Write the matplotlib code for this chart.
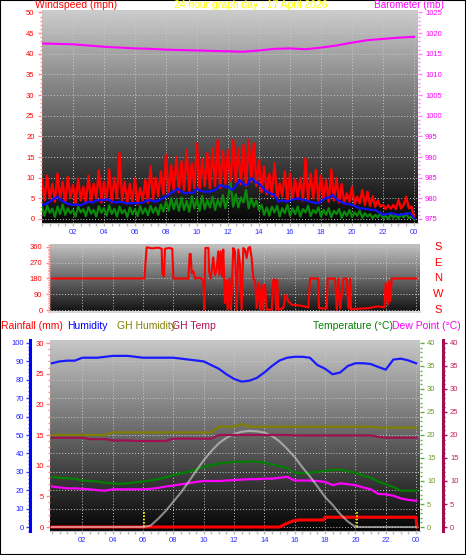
import numpy as np
import matplotlib
matplotlib.use("Agg")
import matplotlib.pyplot as plt
import matplotlib.transforms as mtransforms
from matplotlib.ticker import MultipleLocator, FixedLocator
from matplotlib.patches import Rectangle

plt.rcParams['font.family'] = ['Liberation Sans', 'DejaVu Sans']

# ---------------- data ----------------
title_text = "24 hour graph day : 17 April 2026"
xtick_hours = [2, 4, 6, 8, 10, 12, 14, 16, 18, 20, 22, 24]
xtick_labels = ["02", "04", "06", "08", "10", "12", "14", "16", "18", "20", "22", "00"]

# wind speed, 10-minute samples (mph)
gust_mph = [
    9.5, 4.5, 10.5, 5.0, 8.5, 4.2,
    11.0, 4.8, 9.0, 4.0, 10.2, 5.2,
    8.2, 3.8, 9.8, 4.5, 7.8, 4.0,
    10.5, 4.2, 8.5, 5.0, 11.8, 4.0,
    9.0, 4.6, 12.0, 4.0, 10.0, 5.0,
    16.0, 4.5, 9.0, 3.8, 8.5, 4.2,
    9.8, 3.6, 7.5, 4.5, 9.5, 4.0,
    12.7, 4.8, 10.0, 5.5, 11.5, 6.0,
    15.5, 6.0, 13.0, 7.0, 15.0, 6.5,
    14.0, 7.0, 16.7, 6.5, 13.5, 7.5,
    18.3, 7.0, 14.5, 8.0, 16.0, 7.5,
    17.0, 8.0, 19.1, 7.5, 16.5, 8.5,
    16.7, 8.5, 19.1, 9.0, 17.0, 8.5,
    18.0, 8.0, 19.1, 9.0, 18.3, 8.0,
    14.3, 6.5, 12.7, 6.0, 11.0, 5.5,
    13.5, 5.0, 8.6, 5.5, 11.5, 4.5,
    11.0, 4.8, 9.5, 5.0, 10.0, 4.5,
    14.7, 4.5, 11.0, 5.0, 11.9, 4.5,
    10.5, 4.8, 9.4, 4.2, 12.0, 4.5,
    9.9, 4.0, 8.5, 3.8, 6.2, 4.2,
    7.8, 3.5, 5.4, 3.8, 7.0, 3.4,
    6.6, 3.2, 5.5, 3.0, 4.5, 3.0,
    3.4, 2.4, 3.3, 2.5, 3.4, 2.4,
    4.6, 2.5, 3.4, 5.4, 2.6, 3.0,
    0.6]
low_mph = [
    2.8, 0.8, 3.2, 1.5, 2.5, 0.5,
    3.0, 1.2, 3.5, 1.0, 2.6, 1.4,
    2.2, 0.6, 3.0, 1.6, 2.4, 0.7,
    2.9, 1.3, 2.2, 0.6, 3.1, 1.5,
    2.6, 0.8, 3.3, 1.2, 2.5, 0.6,
    3.0, 1.4, 2.2, 0.5, 2.8, 1.2,
    2.4, 0.7, 3.1, 1.3, 2.6, 0.9,
    3.2, 1.5, 2.8, 1.0, 3.5, 1.8,
    4.2, 2.0, 5.0, 2.4, 4.6, 2.0,
    5.2, 2.2, 4.4, 1.8, 5.5, 2.6,
    4.8, 2.0, 5.6, 2.4, 4.6, 2.8,
    5.4, 2.2, 4.6, 3.0, 5.8, 2.6,
    5.0, 8.6, 3.0, 6.0, 2.8, 5.2,
    4.0, 7.0, 2.6, 5.0, 3.0, 4.4,
    2.2, 3.4, 1.0, 2.8, 0.8, 3.0,
    1.6, 3.2, 0.6, 2.6, 1.4, 3.4,
    0.8, 2.6, 1.2, 3.0, 0.6, 2.4,
    1.6, 3.2, 0.7, 2.2, 1.4, 2.8,
    0.6, 2.2, 1.0, 2.6, 0.4, 2.0,
    1.2, 2.4, 0.3, 1.8, 0.8, 2.2,
    0.5, 1.6, 0.8, 2.0, 0.3, 1.4,
    0.6, 1.2, 0.2, 1.0, 0.4, 1.5,
    0.2, 0.8, 0.0, 1.2, 0.3, 1.0,
    0.1, 1.2, 0.4, 1.4, 0.2, 0.6,
    0.0]
# average wind, 15-minute samples (mph)
avg_mph = [
    3.4, 3.6, 4.2, 4.8,
    5.4, 4.5, 4.0, 3.6,
    3.4, 3.5, 3.3, 3.8,
    4.2, 4.0, 4.5, 4.6,
    4.6, 4.8, 4.2, 4.0,
    4.2, 4.0, 3.8, 3.8,
    3.9, 3.8, 4.0, 4.4,
    4.6, 4.2, 4.4, 5.0,
    5.4, 6.2, 6.6, 7.4,
    6.6, 6.2, 6.4, 6.3,
    7.4, 6.8, 6.6, 6.6,
    6.8, 7.2, 8.2, 7.8,
    7.9, 7.0, 8.0, 9.4,
    8.4, 8.2, 9.9, 9.0,
    8.6, 7.5, 6.6, 6.2,
    5.8, 4.2, 4.5, 4.2,
    4.4, 4.8, 5.0, 4.7,
    4.6, 4.2, 4.0, 3.8,
    4.2, 5.0, 5.2, 5.8,
    4.8, 4.2, 3.8, 3.6,
    3.4, 3.0, 2.6, 2.5,
    2.4, 2.2, 2.2, 1.6,
    1.0, 1.2, 1.4, 1.2,
    1.0, 1.1, 1.3, 1.4,
    0.2]
gust_hours = np.arange(len(gust_mph)) / 6.0
low_hours = np.arange(len(low_mph)) / 6.0
avg_hours = np.arange(len(avg_mph)) / 4.0

# barometer, hourly (mb)
baro_mb = [1017.5, 1017.4, 1017.3, 1017.0, 1016.7, 1016.5, 1016.3, 1016.2, 1016.0,
           1015.9, 1015.8, 1015.7, 1015.6, 1015.5, 1015.8, 1016.2, 1016.3, 1016.1,
           1016.5, 1017.0, 1017.7, 1018.3, 1018.6, 1018.9, 1019.1]
baro_hours = np.arange(len(baro_mb))

# wind direction (hour, degrees)
dir_hours = [0, 6.09, 6.24, 6.6, 7.0, 7.23, 7.27, 7.38, 7.45, 7.7, 7.93, 8.0, 8.99, 9.08, 9.14,
             9.21, 9.32, 9.43, 9.7, 9.87, 9.98, 10.04, 10.11, 10.31, 10.35, 10.46, 10.52, 10.63,
             10.74, 10.85, 10.96, 11.03, 11.12, 11.21, 11.29, 11.40, 11.5, 11.58, 11.69, 11.8,
             11.95, 12.06, 12.17, 12.28, 12.39, 12.5, 12.61, 12.72, 12.83, 12.94, 13.05, 13.16,
             13.27, 13.38, 13.49, 13.6, 13.71, 13.82, 13.9, 14.04, 14.15, 14.48, 14.59, 14.7,
             14.77, 14.85, 14.92, 15.25, 15.4, 15.58, 15.8, 16.4, 16.9, 17.01, 17.56, 17.6,
             18.11, 18.17, 18.66, 18.77, 18.88, 18.99, 19.21, 19.43, 19.54, 19.65, 19.71, 19.86,
             20.8, 21.51, 21.91, 22.0, 22.13, 22.22, 22.3, 22.39, 24.0]
dir_deg = [180, 180, 358, 352, 356, 350, 211, 192, 350, 354, 350, 180, 180, 320, 320,
           211, 221, 180, 185, 178, 164, 2, 354, 354, 221, 180, 221, 300,
           200, 230, 335, 200, 335, 190, 345, 40, 170, 2, 180, 5,
           354, 335, 2, 345, 260, 2, 354, 345, 297, 354, 360, 297,
           180, 173, 11, 154, 2, 145, 5, 145, 2, 2, 173, 173,
           2, 173, 2, 11, 88, 50, 30, 25, 15, 180, 180, 11,
           8, 180, 180, 2, 180, 8, 180, 180, 11, 180, 2, 6,
           10, 21, 15, 154, 30, 163, 50, 180, 180]
dir_letters = ["S", "E", "N", "W", "S"]
dir_letter_deg = [360, 270, 180, 90, 0]

# bottom panel, half-hourly
half_hours = np.arange(49) * 0.5
humidity = [89.0, 90.0, 90.4, 90.4, 92.0, 92.0, 92.0, 92.5, 93.0, 93.0, 93.0, 92.5, 92.0,
            92.0, 92.0, 92.0, 92.0, 91.5, 91.0, 90.5, 90.0, 88.0, 86.0, 83.0, 80.5, 79.0,
            79.5, 81.0, 84.0, 87.5, 90.5, 92.0, 92.5, 92.5, 92.0, 88.0, 86.0, 83.0, 84.0,
            87.5, 89.0, 89.0, 88.6, 87.0, 85.5, 91.0, 91.5, 90.5, 89.0]
gh_humidity = [50.0] * 8 + [51.4] * 14 + [54.5] * 3 + [56.0] + [54.5] * 17 + [54.0] * 6
gh_temp = [19.4] * 5 + [19.1] * 3 + [18.8] * 3 + [18.7] * 5 + [19.2] * 6 + [20.0] * 10 \
          + [19.9] * 11 + [19.6] + [19.4] * 5
temperature = [10.9, 10.7, 10.6, 10.5, 10.1, 10.0, 9.9, 9.6, 9.5, 9.4, 9.5, 9.7, 9.9, 10.1,
               10.4, 10.8, 11.3, 11.7, 12.0, 12.5, 13.1, 13.4, 13.8, 14.0, 14.2, 14.1, 14.3,
               14.2, 14.0, 13.6, 13.2, 12.8, 11.8, 11.7, 11.8, 12.0, 12.2, 12.4, 12.5, 12.1,
               11.8, 11.2, 10.7, 9.9, 9.3, 8.7, 7.9, 7.9, 7.9]
dew_point = [8.8, 8.6, 8.4, 8.4, 8.3, 8.2, 8.0, 7.9, 8.2, 8.2, 8.2, 8.2, 8.2, 8.3, 8.5, 8.8,
             9.0, 9.3, 9.5, 9.8, 10.0, 10.0, 10.0, 10.1, 10.2, 10.3, 10.4, 10.4, 10.5, 10.5,
             10.7, 10.9, 10.1, 10.1, 10.1, 10.0, 9.8, 9.1, 9.5, 9.3, 9.1, 8.6, 8.2, 7.2, 7.1,
             6.8, 6.2, 5.9, 5.7]
solar = [0] * 13 + [0.3, 1.8, 3.5, 5.5, 7.5, 9.8, 12.2, 14.5, 16.5, 18.2, 19.4, 20.2, 20.7,
                    20.9, 20.8, 20.5, 19.8, 18.6, 17.0, 15.2, 13.0, 11.0, 8.8, 6.5, 4.8, 2.8,
                    1.2] + [0] * 9
rain_hours = [0, 15.0, 15.4, 15.9, 16.3, 17.9, 18.0, 24.0, 24.05]
rain_mm = [0, 0, 0.5, 1.0, 1.15, 1.15, 1.6, 1.6, 0]
sun_times = [6.05, 20.1]

# ---------------- figure ----------------
W, H = 466, 555
PT = 0.72
fig = plt.figure(figsize=(W / 100, H / 100), dpi=100)
fig.patch.set_facecolor('white')


def rect(l, t, r, b):
    return [l / W, 1 - b / H, (r - l) / W, (b - t) / H]


def add_gradient(ax, top, bottom):
    g = np.linspace(top, bottom, 256).reshape(-1, 1)
    ax.imshow(g, extent=[0, 1, 0, 1], transform=ax.transAxes, cmap='gray', vmin=0, vmax=1,
              aspect='auto', zorder=0, interpolation='bilinear')


def hide_spines(ax):
    for s in ax.spines.values():
        s.set_visible(False)


def ytick_style(ax, side, major, minor, tcolor, lcolor, pad=2.5):
    ax.yaxis.set_major_locator(MultipleLocator(major))
    ax.yaxis.set_minor_locator(MultipleLocator(minor))
    left = side == 'left'
    ax.tick_params(axis='y', which='both', direction='out', colors=tcolor, labelcolor=lcolor,
                   width=1.4 * PT, labelsize=5.5, pad=pad * PT,
                   left=left, labelleft=left, right=not left, labelright=not left)
    ax.tick_params(axis='y', which='major', length=4 * PT)
    ax.tick_params(axis='y', which='minor', length=2.5 * PT)


def xtick_style(ax, labels=True):
    ax.xaxis.set_major_locator(FixedLocator(xtick_hours))
    ax.xaxis.set_minor_locator(MultipleLocator(0.5))
    if labels:
        ax.set_xticklabels(xtick_labels)
    ax.tick_params(axis='x', which='both', direction='out', colors='#b8b8b8', labelcolor='#3030ff',
                   labelsize=5.5, width=1.0, length=3 * PT, pad=3.5 * PT, labelbottom=labels)


grid_kw = dict(color='#c8c8c8', linestyle=(0, (1, 2)), linewidth=0.7)

# ----- top panel: wind speed + barometer -----
ax1 = fig.add_axes(rect(42, 10, 418, 223))
add_gradient(ax1, 0.80, 0.02)
ax1.plot(gust_hours, gust_mph, color='#ff0000', lw=1.7, zorder=3)
ax1.plot(low_hours, low_mph, color='#0a8a0a', lw=1.6, zorder=4)
ax1.plot(avg_hours, avg_mph, color='#1010ff', lw=1.6, zorder=5)
ax1.set_xlim(0, 376 / 15.5)
ax1.set_ylim(-0.97, 50.6)
hide_spines(ax1)
ax1.spines['bottom'].set_visible(True)
ax1.spines['bottom'].set_color('#c0c0c0')
ax1.grid(True, which='major', **grid_kw)
xtick_style(ax1)
ytick_style(ax1, 'left', 5, 1, '#ff8c8c', '#ff0000', pad=3.5)

ax1b = ax1.twinx()
ax1b.plot(baro_hours, baro_mb, color='#ff00ff', lw=1.5, zorder=6)
ax1b.set_ylim(975 - 0.97, 975 + 50.6)
hide_spines(ax1b)
ytick_style(ax1b, 'right', 5, 1, '#ff80ff', '#ff00ff', pad=3)
ax1.set_xlim(0, 376 / 15.5)
ax1.set_ylim(-0.97, 50.6)

# ----- wind direction panel -----
xl = (-2 / 15.17, 368 / 15.17)
ax2 = fig.add_axes(rect(50, 244, 420, 312))
add_gradient(ax2, 0.76, 0.07)
ax2.plot(dir_hours, dir_deg, color='#ff0000', lw=1.5, zorder=3)
ax2.set_xlim(*xl)
ax2.set_ylim(-11.4, 377)
hide_spines(ax2)
ax2.spines['bottom'].set_visible(True)
ax2.spines['bottom'].set_color('#d8d8d8')
ax2.spines['bottom'].set_linewidth(1.5)
ax2.yaxis.set_major_locator(FixedLocator([0, 90, 180, 270, 360]))
ax2.yaxis.set_minor_locator(MultipleLocator(10))
ax2.tick_params(axis='y', which='both', colors='#ff8c8c', labelcolor='#ff0000', labelsize=5.5,
                width=1.4 * PT, pad=3.5 * PT)
ax2.tick_params(axis='y', which='major', length=4 * PT)
ax2.tick_params(axis='y', which='minor', length=2.5 * PT)
ax2.xaxis.set_major_locator(FixedLocator(xtick_hours))
ax2.tick_params(axis='x', which='both', length=0, labelbottom=False)
ax2.grid(True, which='major', **grid_kw)
blend = mtransforms.blended_transform_factory(ax2.transAxes, ax2.transData)
for letter, deg in zip(dir_letters, dir_letter_deg):
    ax2.text((438 - 50) / 370, deg, letter, transform=blend, color='#ff0000', fontsize=8,
             ha='center', va='center', clip_on=False)

# ----- bottom panel -----
ax3 = fig.add_axes(rect(50, 340, 420, 531))  # humidity (main, grid)
add_gradient(ax3, 0.78, 0.02)
ax3.plot(half_hours, gh_humidity, color='#808000', lw=1.6, zorder=3)
ax3.plot(half_hours, humidity, color='#1a1aff', lw=1.6, zorder=3)
ax3.set_xlim(*xl)
ax3.set_ylim(-2.17, 101.63)
hide_spines(ax3)
ax3.spines['bottom'].set_visible(True)
ax3.spines['bottom'].set_color('#c0c0c0')
ax3.spines['left'].set_visible(True)
ax3.spines['left'].set_position(('outward', 20 * PT))
ax3.spines['left'].set_color('#0000ff')
ax3.spines['left'].set_linewidth(2.2)
ax3.grid(True, which='major', **grid_kw)
xtick_style(ax3)

axR = ax3.twinx()  # rainfall
axR.plot(rain_hours, rain_mm, color='#ff0000', lw=2.2, zorder=3)
axR.vlines(sun_times, 0, 2.6, colors='#ffff00', linestyles=(0, (1, 1)), lw=1.2, zorder=4)
axR.set_ylim(-0.652, 30.49)
hide_spines(axR)
axR.yaxis.tick_left()

axT = ax3.twinx()  # temperature
axT.plot(half_hours, solar, color='#d8d8d8', lw=1.5, alpha=0.6, zorder=5)
axT.plot(half_hours, temperature, color='#008000', lw=1.6, zorder=3)
axT.plot(half_hours, dew_point, color='#ff00ff', lw=1.6, zorder=3)
axT.set_ylim(-0.869, 40.65)
hide_spines(axT)

axD = ax3.twinx()  # GH temp axis
axD.plot(half_hours, gh_temp, color='#a01050', lw=1.6, zorder=3)
axD.set_ylim(-0.869, 40.65)
hide_spines(axD)
axD.spines['right'].set_visible(True)
axD.spines['right'].set_position(('outward', 23 * PT))
axD.spines['right'].set_color('#a01050')
axD.spines['right'].set_linewidth(2.2)

ytick_style(ax3, 'left', 10, 2, '#4040ff', '#2020ff', pad=2)
ytick_style(axR, 'left', 5, 1, '#ff8c8c', '#ff0000', pad=2)
ytick_style(axT, 'right', 5, 1, '#60b040', '#6a9a2a', pad=3)
ytick_style(axD, 'right', 5, 1, '#a01050', '#c02060', pad=3)
ax3.set_xlim(*xl)
ax3.set_ylim(-2.17, 101.63)

# ----- titles -----
def ftext(x, y, s, color, ha='left', size=7.5):
    fig.text(x / W, 1 - y / H, s, color=color, fontsize=size, ha=ha, va='center')


ftext(35, 5.5, "Windspeed (mph)", '#ff0000')
ftext(251, 5.5, title_text, '#ffff00', ha='center')
ftext(444, 5, "Barometer (mb)", '#ff00ff', ha='right', size=7.2)
ftext(1, 326, "Rainfall (mm)", '#ff0000')
ftext(67, 326, "Humidity", '#0000ff')
ftext(117, 326, "GH Humidity", '#808000')
ftext(172, 326, "GH Temp", '#b0105a')
ftext(313, 326, "Temperature (\u00b0C)", '#008000')
ftext(392, 326, "Dew Point (\u00b0C)", '#ff00ff')

fig.add_artist(Rectangle((0, 0), 1, 1, transform=fig.transFigure, fill=False,
                         edgecolor='black', lw=1.5))

fig.savefig('out.png', dpi=100, facecolor='white')
